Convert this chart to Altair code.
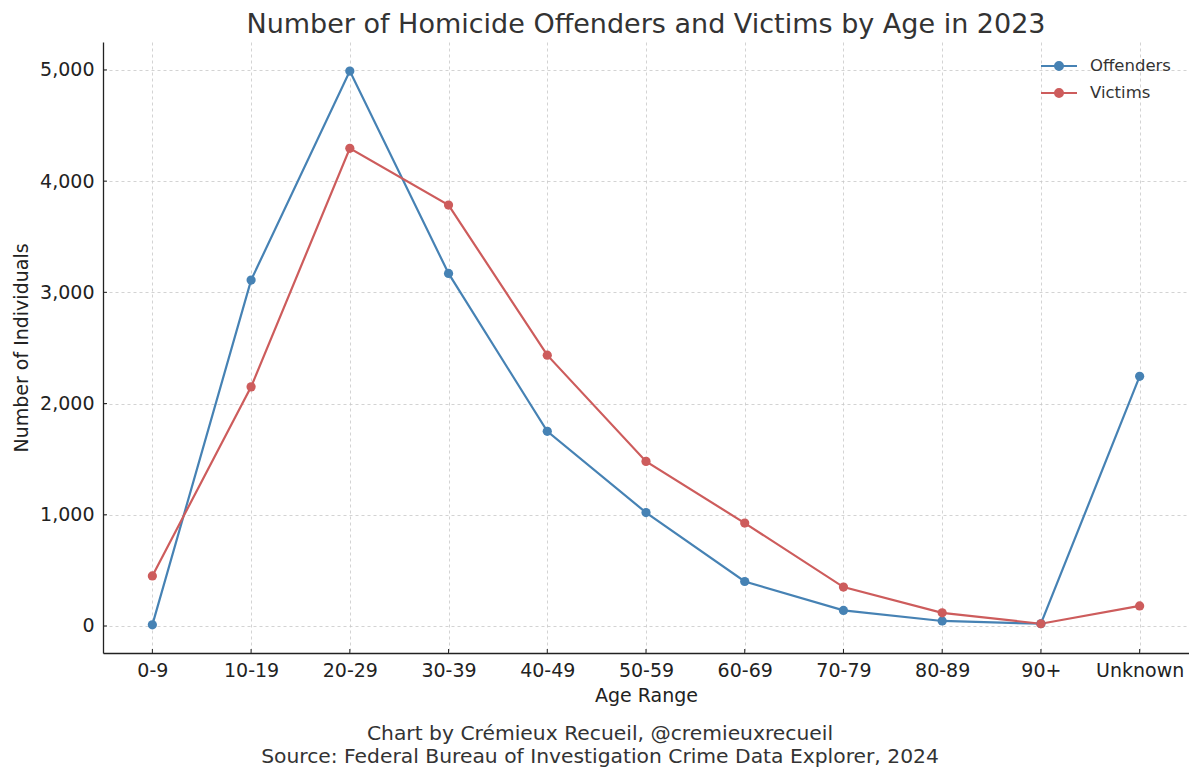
import altair as alt
import pandas as pd

ages = ["0-9", "10-19", "20-29", "30-39", "40-49", "50-59", "60-69", "70-79", "80-89", "90+", "Unknown"]
offenders = [10, 3110, 4990, 3170, 1750, 1020, 400, 140, 45, 20, 2245]
victims = [450, 2150, 4295, 3785, 2435, 1480, 925, 350, 118, 20, 180]
groups = ["Offenders", "Victims"]
colors = ["#4682b4", "#cd5c5c"]
y_ticks = [0, 1000, 2000, 3000, 4000, 5000]
title_text = "Number of Homicide Offenders and Victims by Age in 2023"
footer_line1 = ["Chart by Crémieux Recueil, @cremieuxrecueil"]
footer_line2 = ["Source: Federal Bureau of Investigation Crime Data Explorer, 2024"]

rows = []
for a, o, v in zip(ages, offenders, victims):
    rows.append({"Age": a, "Group": "Offenders", "Count": o})
    rows.append({"Age": a, "Group": "Victims", "Count": v})
df = pd.DataFrame(rows)

W, H = 1086, 611
FONT = "DejaVu Sans"
XTITLE = "Age Range"
YTITLE = "Number of Individuals"

xscale = alt.Scale(type="point", domain=ages, padding=0.5)
yscale = alt.Scale(domain=[-243, 5251], nice=False, zero=False)

# legend symbol: a line with a filled dot (concentric rings fill the dot)
legend_path = ("M-2,0H2"
               "M-0.444,0A0.444,0.444,0,1,1,0.444,0A0.444,0.444,0,1,1,-0.444,0Z"
               "M-0.278,0A0.278,0.278,0,1,1,0.278,0A0.278,0.278,0,1,1,-0.278,0Z"
               "M-0.111,0A0.111,0.111,0,1,1,0.111,0A0.111,0.111,0,1,1,-0.111,0Z")

color = alt.Color("Group:N", scale=alt.Scale(domain=groups, range=colors),
                  legend=alt.Legend(title=None, orient="none", legendX=946, legendY=14,
                                    symbolType=legend_path, symbolSize=324,
                                    symbolStrokeWidth=2, labelFontSize=16.5,
                                    labelFont=FONT, labelColor="#333",
                                    labelOffset=21, rowPadding=8, padding=0))

xaxis = alt.Axis(labelAngle=0, tickSize=0, labelPadding=8, titlePadding=6,
                 grid=True, domainColor="#222", domainWidth=1.3,
                 gridDash=[3, 3], gridColor="#c8c8c8", gridWidth=0.8)
yaxis = alt.Axis(values=y_ticks, labelExpr="format(datum.value, ',.0f')", tickSize=0,
                 labelPadding=9, titlePadding=8, grid=True, domainColor="#222",
                 domainWidth=1.3, gridDash=[3, 3], gridColor="#c8c8c8", gridWidth=0.8)

x = alt.X("Age:N", scale=xscale, sort=ages, title=XTITLE, axis=xaxis)
y = alt.Y("Count:Q", scale=yscale, title=YTITLE, axis=yaxis)

base = alt.Chart(df)
lines = base.mark_line(strokeWidth=2.2).encode(x=x, y=y, color=color)
points = base.mark_point(filled=True, size=85, opacity=1).encode(x=x, y=y, color=color)

xticks = alt.Chart(pd.DataFrame({"Age": ages})).mark_rule(color="#222", strokeWidth=1).encode(
    x=x, y=alt.value(H), y2=alt.value(H - 4))
yticks = alt.Chart(pd.DataFrame({"Count": y_ticks})).mark_rule(color="#222", strokeWidth=1).encode(
    y=y, x=alt.value(0), x2=alt.value(4))

footer1 = alt.Chart(pd.DataFrame({"t": footer_line1})).mark_text(
    font=FONT, fontSize=20.3, color="#333", align="center", baseline="middle").encode(
    text="t:N", x=alt.value(497), y=alt.value(692))
footer2 = alt.Chart(pd.DataFrame({"t": footer_line2})).mark_text(
    font=FONT, fontSize=20.3, color="#333", align="center", baseline="middle").encode(
    text="t:N", x=alt.value(497), y=alt.value(715))

chart = alt.layer(lines, points, xticks, yticks, footer1, footer2).properties(
    width=W, height=H,
    title=alt.TitleParams(title_text, fontSize=27, font=FONT, fontWeight="normal",
                          color="#333", anchor="middle", offset=3),
    autosize=alt.AutoSizeParams(type="none"),
    padding={"left": 95, "top": 34, "right": 0, "bottom": 118},
).configure(background="white").configure_view(stroke=None).configure_axis(
    labelFont=FONT, titleFont=FONT, labelFontSize=19, titleFontSize=19,
    labelColor="#222", titleColor="#222", titleFontWeight="normal"
)

chart.save("out.html", embed_options={"renderer": "svg", "actions": False})
